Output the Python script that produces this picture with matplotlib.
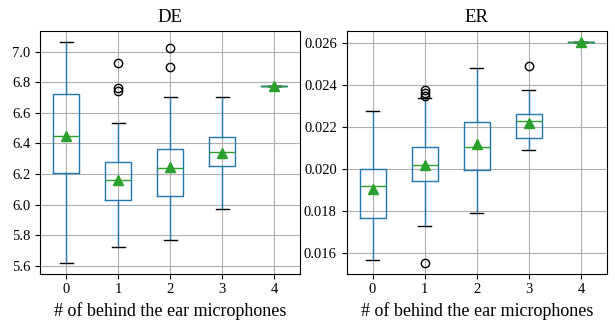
import matplotlib.pyplot as plt
from matplotlib.ticker import MultipleLocator, FormatStrFormatter

plt.rcParams['font.family'] = ['Liberation Serif', 'DejaVu Serif']

# number of behind-the-ear microphones
labels = ['0', '1', '2', '3', '4']

# DE box statistics
de_whislo = [5.617, 5.720, 5.766, 5.970, 6.778]
de_q1 = [6.203, 6.027, 6.059, 6.251, 6.778]
de_med = [6.449, 6.160, 6.236, 6.342, 6.778]
de_q3 = [6.721, 6.277, 6.366, 6.440, 6.778]
de_whishi = [7.065, 6.530, 6.706, 6.700, 6.778]
de_mean = [6.445, 6.162, 6.244, 6.340, 6.778]
de_fliers = [[], [6.924, 6.765, 6.743], [7.022, 6.898], [], []]

# ER box statistics
er_whislo = [0.01567, 0.01729, 0.01789, 0.02089, 0.02606]
er_q1 = [0.01765, 0.01944, 0.01994, 0.02148, 0.02606]
er_med = [0.01919, 0.02019, 0.02106, 0.02227, 0.02606]
er_q3 = [0.01998, 0.02105, 0.02224, 0.02262, 0.02606]
er_whishi = [0.02276, 0.02337, 0.02484, 0.02376, 0.02606]
er_mean = [0.01906, 0.02021, 0.02119, 0.02219, 0.02606]
er_fliers = [[], [0.02375, 0.02362, 0.02346, 0.01552], [], [0.02489], []]


def make_stats(lo, q1, med, q3, hi, mean, fl):
    out = []
    for i in range(len(lo)):
        out.append(dict(whislo=lo[i], q1=q1[i], med=med[i], q3=q3[i],
                        whishi=hi[i], mean=mean[i], fliers=fl[i], label=labels[i]))
    return out


fig, axes = plt.subplots(1, 2, figsize=(6.15, 3.22), dpi=100)
fig.subplots_adjust(left=0.065, right=0.987, top=0.905, bottom=0.15, wspace=0.177)

panels = [
    ('DE', make_stats(de_whislo, de_q1, de_med, de_q3, de_whishi, de_mean, de_fliers),
     (5.548, 7.137), 0.2, '%.1f'),
    ('ER', make_stats(er_whislo, er_q1, er_med, er_q3, er_whishi, er_mean, er_fliers),
     (0.01501, 0.0266), 0.002, '%.3f'),
]

for ax, (title, stats, ylim, step, fmt) in zip(axes, panels):
    ax.bxp(stats, showmeans=True,
           boxprops=dict(color='C0'),
           whiskerprops=dict(color='C0'),
           capprops=dict(color='k'),
           medianprops=dict(color='C2'),
           meanprops=dict(marker='^', markerfacecolor='C2', markeredgecolor='C2', markersize=7),
           flierprops=dict(marker='o', markerfacecolor='none', markeredgecolor='k', markersize=6))
    ax.set_title(title, fontsize=13.5)
    ax.set_xlabel('# of behind the ear microphones', fontsize=13)
    ax.set_ylim(*ylim)
    ax.yaxis.set_major_locator(MultipleLocator(step))
    ax.yaxis.set_major_formatter(FormatStrFormatter(fmt))
    ax.grid(True, color='#b0b0b0')
    ax.set_axisbelow(True)
    ax.tick_params(labelsize=10.5)

fig.savefig('out.png')
